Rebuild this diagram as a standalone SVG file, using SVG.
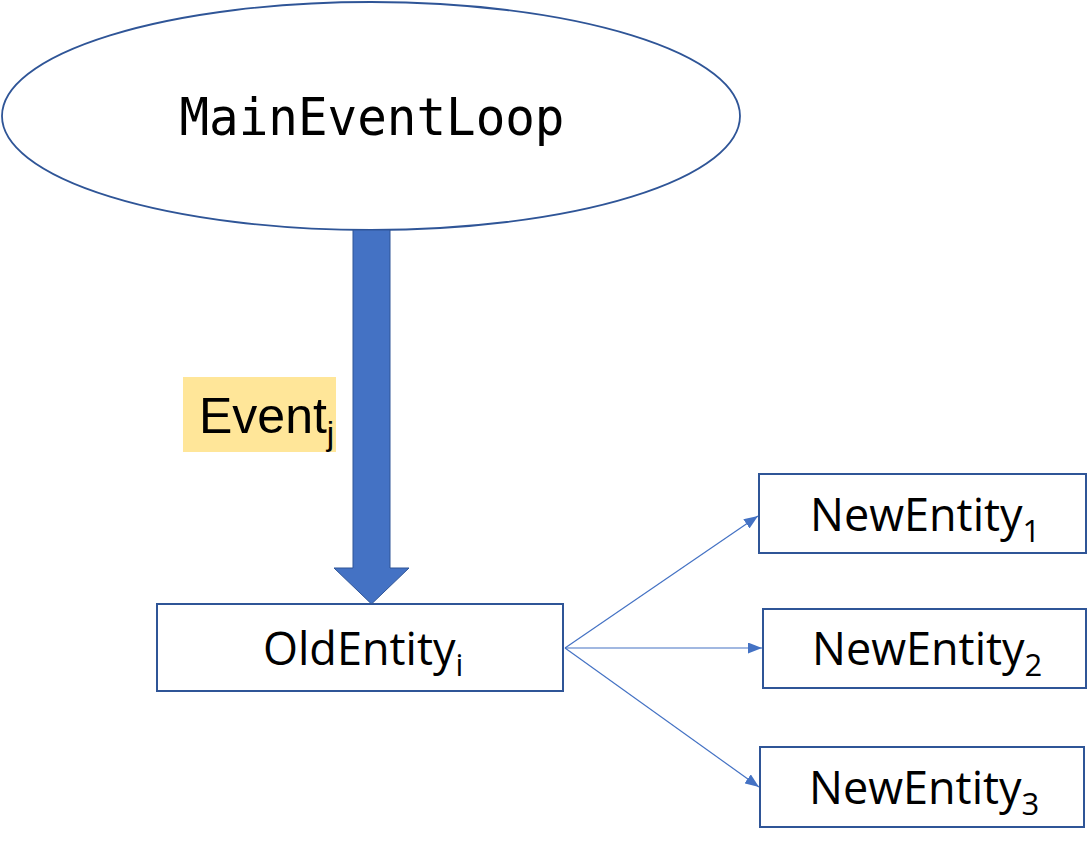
<svg xmlns="http://www.w3.org/2000/svg" width="1087" height="845" viewBox="0 0 1087 845">
  <style>
    .box { fill: #ffffff; stroke: #2F5597; stroke-width: 2; }
    .lbl { font-family: "Open Sans", "Noto Sans", sans-serif; font-size: 45px; fill: #000000; }
    .sub { font-size: 31px; }
    .conn { stroke: #4472C4; stroke-width: 1.2; fill: none; }
  </style>
  <defs>
    <marker id="ah" viewBox="0 0 14 11" refX="14" refY="5.5" markerWidth="14" markerHeight="11" markerUnits="userSpaceOnUse" orient="auto">
      <path d="M0,0 L14,5.5 L0,11 Z" fill="#4472C4"/>
    </marker>
  </defs>
  <rect width="1087" height="845" fill="#ffffff"/>

  <g id="main-event-loop">
    <ellipse cx="371" cy="116" rx="369" ry="114" fill="#ffffff" stroke="#2F5597" stroke-width="1.8"/>
    <text x="372" y="135" text-anchor="middle" font-family="DejaVu Sans Mono, Liberation Mono, monospace" font-size="51" textLength="385" lengthAdjust="spacingAndGlyphs" fill="#000000">MainEventLoop</text>
  </g>

  <g id="connectors">
    <path id="event-arrow" d="M353,230 L390,230 L390,568 L409,568 L371.5,604 L334,568 L353,568 Z" fill="#4472C4" stroke="#2F5597" stroke-width="1"/>
    <line class="conn" x1="565" y1="648" x2="758" y2="516" marker-end="url(#ah)"/>
    <line class="conn" x1="565" y1="648" x2="762" y2="648" marker-end="url(#ah)"/>
    <line class="conn" x1="565" y1="648" x2="759" y2="787" marker-end="url(#ah)"/>
  </g>

  <g id="event-label">
    <rect x="183" y="377" width="153" height="75" fill="#FFE699"/>
    <text x="199" y="433" font-family="Liberation Sans, Arial, sans-serif" font-size="50" fill="#000000">Event<tspan font-size="33" dy="12">j</tspan></text>
  </g>

  <g id="old-entity">
    <rect class="box" x="157" y="604" width="406" height="87"/>
    <text class="lbl" x="263" y="665">OldEntity<tspan class="sub" dy="11">i</tspan></text>
  </g>

  <g id="new-entity-1">
    <rect class="box" x="759" y="474" width="327" height="79"/>
    <text class="lbl" x="810" y="531">NewEntity<tspan class="sub" dy="11">1</tspan></text>
  </g>

  <g id="new-entity-2">
    <rect class="box" x="763" y="609" width="323" height="79"/>
    <text class="lbl" x="812" y="665">NewEntity<tspan class="sub" dy="11">2</tspan></text>
  </g>

  <g id="new-entity-3">
    <rect class="box" x="760" y="747" width="324" height="80"/>
    <text class="lbl" x="809" y="804">NewEntity<tspan class="sub" dy="11">3</tspan></text>
  </g>
</svg>
